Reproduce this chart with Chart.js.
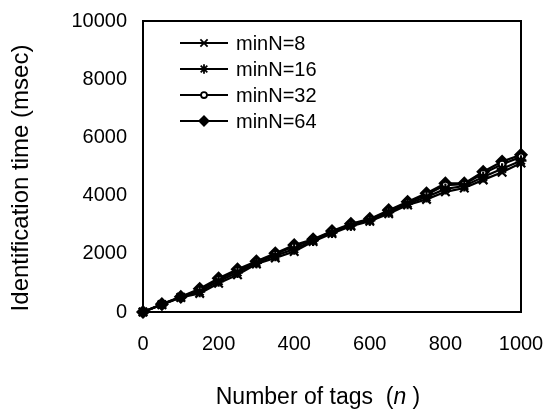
<!DOCTYPE html>
<html>
<head>
<meta charset="utf-8">
<script src="https://cdn.jsdelivr.net/npm/chart.js@4/dist/chart.umd.min.js"></script>
<style>
  html, body { margin: 0; padding: 0; background: #fff; }
  #wrap { width: 546px; height: 412px; }
</style>
</head>
<body>
<div id="wrap"><canvas id="timeChart" width="546" height="412"></canvas></div>
<script>
const tagCounts = [0, 50, 100, 150, 200, 250, 300, 350, 400, 450, 500, 550, 600, 650, 700, 750, 800, 850, 900, 950, 1000];
const minN8  = [0, 250, 500, 640, 990, 1280, 1650, 1860, 2080, 2420, 2700, 2950, 3120, 3380, 3680, 3870, 4130, 4260, 4540, 4800, 5120];
const minN16 = [0, 260, 510, 700, 1060, 1360, 1690, 1930, 2160, 2460, 2730, 2980, 3150, 3430, 3720, 3950, 4230, 4330, 4640, 4920, 5200];
const minN32 = [0, 265, 515, 760, 1120, 1430, 1720, 1990, 2250, 2480, 2760, 3010, 3180, 3470, 3760, 4030, 4360, 4390, 4760, 5080, 5330];
const minN64 = [0, 270, 520, 800, 1160, 1470, 1740, 2020, 2300, 2500, 2780, 3030, 3200, 3500, 3790, 4080, 4420, 4420, 4820, 5170, 5400];
const seriesNames = ['minN=8', 'minN=16', 'minN=32', 'minN=64'];
const yTicks = [0, 2000, 4000, 6000, 8000, 10000];
const xTicks = [0, 200, 400, 600, 800, 1000];

const FONT = '"Liberation Sans", Arial, Helvetica, sans-serif';

function toPoints(values) {
  return values.map((v, i) => ({ x: tagCounts[i], y: v }));
}

function makeSeries(label, values, style, radius, fill) {
  return {
    label: label,
    data: toPoints(values),
    borderColor: '#000',
    borderWidth: 2.2,
    pointStyle: style,
    pointRadius: radius,
    pointBorderWidth: 2.2,
    pointBorderColor: '#000',
    pointBackgroundColor: fill,
    clip: false,
    tension: 0
  };
}

// frame around the plot area
const framePlugin = {
  id: 'frame',
  beforeDatasetsDraw(chart) {
    const { ctx, chartArea: a } = chart;
    ctx.save();
    ctx.strokeStyle = '#000';
    ctx.lineWidth = 2;
    ctx.strokeRect(a.left, a.top, a.right - a.left, a.bottom - a.top);
    ctx.restore();
  }
};

// line + marker legend in the upper left of the plot
const lineLegend = {
  id: 'lineLegend',
  afterDraw(chart) {
    const { ctx } = chart;
    ctx.save();
    chart.data.datasets.forEach((ds, i) => {
      const y = 43 + i * 26;
      ctx.strokeStyle = '#000';
      ctx.lineWidth = 1.8;
      ctx.beginPath();
      ctx.moveTo(180, y);
      ctx.lineTo(228, y);
      ctx.stroke();
      ctx.fillStyle = ds.pointBackgroundColor;
      ctx.lineWidth = 1.8;
      Chart.helpers.drawPoint(ctx, { pointStyle: ds.pointStyle, radius: ds.pointRadius * 0.85, rotation: 0, borderWidth: 1.8 }, 204, y);
      ctx.fillStyle = '#000';
      ctx.font = '20px ' + FONT;
      ctx.textBaseline = 'middle';
      ctx.textAlign = 'left';
      ctx.fillText(ds.label, 236, y + 1);
    });
    ctx.restore();
  }
};

// axis titles (the n in the x title is italic)
const axisTitles = {
  id: 'axisTitles',
  afterDraw(chart) {
    const { ctx } = chart;
    ctx.save();
    ctx.fillStyle = '#000';
    ctx.textBaseline = 'middle';
    ctx.textAlign = 'left';
    const parts = [
      { text: 'Number of tags  (', font: '23px ' + FONT },
      { text: 'n', font: 'italic 23px ' + FONT },
      { text: ' )', font: '23px ' + FONT }
    ];
    let total = 0;
    parts.forEach(p => { ctx.font = p.font; p.w = ctx.measureText(p.text).width; total += p.w; });
    let x = 318 - total / 2;
    parts.forEach(p => { ctx.font = p.font; ctx.fillText(p.text, x, 398); x += p.w; });

    ctx.font = '24px ' + FONT;
    ctx.textAlign = 'center';
    ctx.translate(21, 178);
    ctx.rotate(-Math.PI / 2);
    ctx.fillText('Identification time (msec)', 0, 0);
    ctx.restore();
  }
};

const plainLabel = v => String(v);

const chart = new Chart(document.getElementById('timeChart'), {
  type: 'line',
  data: {
    datasets: [
      makeSeries(seriesNames[0], minN8, 'crossRot', 6, '#000'),
      makeSeries(seriesNames[1], minN16, 'star', 5.5, '#000'),
      makeSeries(seriesNames[2], minN32, 'circle', 3.5, '#fff'),
      makeSeries(seriesNames[3], minN64, 'rectRot', 5.5, '#000')
    ]
  },
  options: {
    responsive: false,
    animation: false,
    events: [],
    layout: { padding: { left: 0, top: 21, right: 25, bottom: 0 } },
    plugins: {
      legend: { display: false },
      tooltip: { enabled: false }
    },
    scales: {
      x: {
        type: 'linear',
        min: 0,
        max: 1000,
        afterBuildTicks: scale => { scale.ticks = xTicks.map(v => ({ value: v })); },
        afterFit: scale => { scale.height = 100; scale.paddingRight = 0; scale.paddingLeft = 0; },
        grid: { display: false, drawTicks: false },
        border: { display: false },
        ticks: {
          color: '#000',
          padding: 20,
          maxRotation: 0,
          callback: plainLabel,
          font: { family: FONT, size: 20 }
        }
      },
      y: {
        type: 'linear',
        min: 0,
        max: 10000,
        afterBuildTicks: scale => { scale.ticks = yTicks.map(v => ({ value: v })); },
        afterFit: scale => { scale.width = 143; scale.paddingTop = 0; scale.paddingBottom = 0; },
        grid: { display: false, drawTicks: false },
        border: { display: false },
        ticks: {
          color: '#000',
          padding: 16,
          callback: plainLabel,
          font: { family: FONT, size: 20 }
        }
      }
    }
  },
  plugins: [framePlugin, lineLegend, axisTitles]
});
</script>
</body>
</html>
